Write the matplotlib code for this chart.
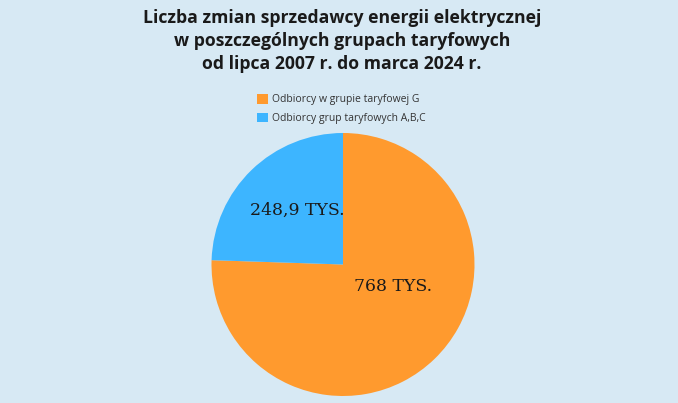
import numpy as np
import matplotlib.pyplot as plt
from matplotlib.patches import Patch

# Data
labels = ["Odbiorcy w grupie taryfowej G", "Odbiorcy grup taryfowych A,B,C"]
values = [768, 248.9]
value_labels = ["768 TYS.", "248,9 TYS."]
colors = ["#FF9A2E", "#3DB5FF"]
bg = "#D7E9F4"

W, H = 678, 403
fig = plt.figure(figsize=(W / 100, H / 100), dpi=100, facecolor=bg)

fig.text(342 / W, 1 - 9 / H,
         "Liczba zmian sprzedawcy energii elektrycznej\n"
         "w poszczególnych grupach taryfowych\n"
         "od lipca 2007 r. do marca 2024 r.",
         ha="center", va="top", fontsize=12.7, fontweight="bold",
         family="Open Sans", color="#1a1a1a", linespacing=1.35)

# pie axes, square in pixels
cx, cy, r = 343, 264.5, 131.5
ax = fig.add_axes([(cx - r) / W, (H - cy - r) / H, 2 * r / W, 2 * r / H])
ax.set_facecolor(bg)
ax.pie(values, colors=colors, startangle=90, counterclock=False, radius=1)
ax.set_xlim(-1, 1)
ax.set_ylim(-1, 1)
ax.axis("off")

# label placement: (distance from centre, angle in degrees)
label_pos = [(0.415, -23.7), (0.54, 130.4)]
for txt, (d, a) in zip(value_labels, label_pos):
    a = np.deg2rad(a)
    ax.text(d * np.cos(a), d * np.sin(a), txt, ha="center", va="center",
            fontsize=12.4, family="DejaVu Serif", color="#1a1a1a")

handles = [Patch(facecolor=c, edgecolor="none") for c in colors]
fig.legend(handles, labels, loc="upper left",
           bbox_to_anchor=(252 / W, 1 - 89 / H), frameon=False,
           prop={"family": "Open Sans", "size": 7.5}, handlelength=1.0,
           handleheight=1.0, handletextpad=0.4, labelspacing=0.7,
           borderpad=0, labelcolor="#333333")

fig.savefig("out.png", dpi=100, facecolor=bg)
